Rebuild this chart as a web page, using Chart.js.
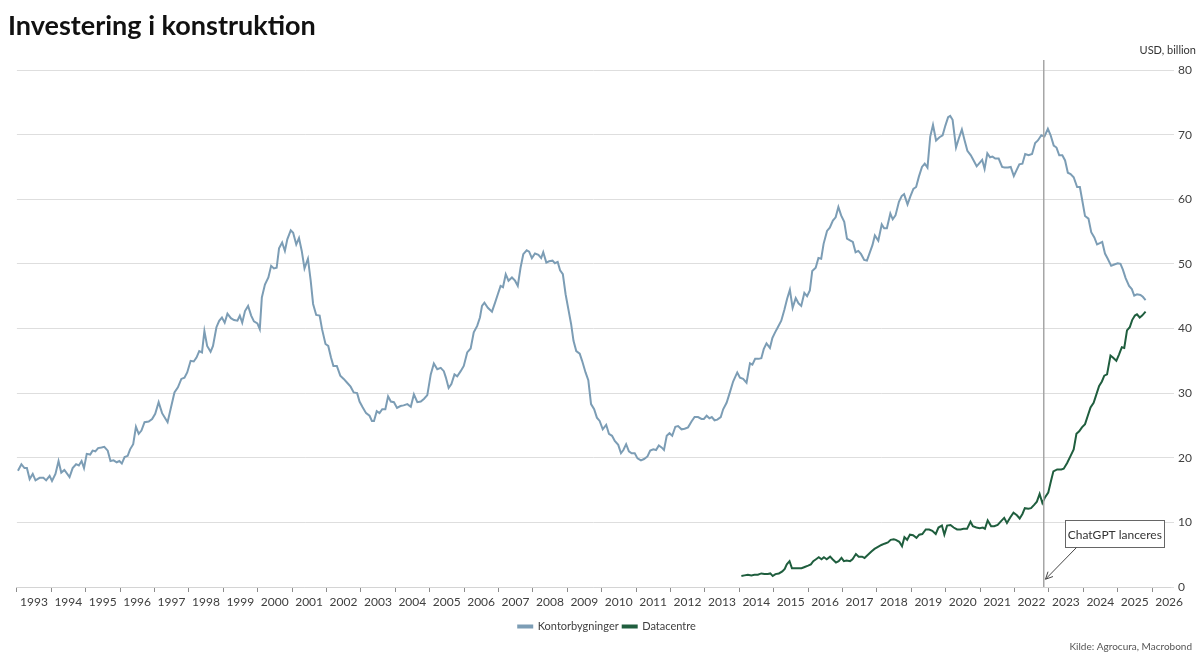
<!DOCTYPE html>
<html>
<head>
<meta charset="utf-8">
<script src="https://cdn.jsdelivr.net/npm/chart.js@4.4.0/dist/chart.umd.min.js"></script>
<style>
  html, body { margin: 0; padding: 0; background: #fff; }
  #wrap { width: 1200px; height: 662px; position: relative; }
</style>
</head>
<body>
<div id="wrap"><canvas id="myChart"></canvas></div>
<script>
// monthly readings, x = decimal year
const officeDates = [
  1993.03, 1993.13, 1993.22, 1993.29, 1993.37, 1993.46, 1993.54, 1993.66, 1993.77, 1993.85, 1993.95,
  1994.02, 1994.12, 1994.21, 1994.29, 1994.38, 1994.53, 1994.62, 1994.72, 1994.80, 1994.88, 1994.95,
  1995.03, 1995.13, 1995.20, 1995.28, 1995.36, 1995.46, 1995.54, 1995.64, 1995.72, 1995.81, 1995.90, 1995.98,
  1996.05, 1996.13, 1996.22, 1996.29, 1996.38, 1996.46, 1996.54, 1996.62, 1996.71, 1996.83, 1996.93,
  1997.02, 1997.12, 1997.22, 1997.31, 1997.38, 1997.48, 1997.58, 1997.68, 1997.78, 1997.87, 1997.95,
  1998.05, 1998.14, 1998.22, 1998.30, 1998.38, 1998.45, 1998.53, 1998.63, 1998.70, 1998.80, 1998.88, 1998.96,
  1999.04, 1999.12, 1999.22, 1999.31, 1999.41, 1999.48, 1999.55, 1999.63, 1999.72, 1999.81, 1999.89, 1999.99,
  2000.06, 2000.12, 2000.21, 2000.31, 2000.39, 2000.47, 2000.55, 2000.62, 2000.71, 2000.79, 2000.86, 2000.96,
  2001.03, 2001.12, 2001.20, 2001.28, 2001.36, 2001.46, 2001.54, 2001.61, 2001.70, 2001.80, 2001.87, 2001.97,
  2002.05, 2002.13, 2002.20, 2002.30, 2002.40, 2002.50, 2002.60, 2002.70, 2002.79, 2002.89, 2002.96,
  2003.05, 2003.15, 2003.25, 2003.32, 2003.38, 2003.46, 2003.54, 2003.62, 2003.71, 2003.79, 2003.87, 2003.96,
  2004.05, 2004.15, 2004.24, 2004.35, 2004.45, 2004.54, 2004.64, 2004.74, 2004.83, 2004.93,
  2005.03, 2005.12, 2005.22, 2005.32, 2005.41, 2005.47, 2005.55, 2005.63, 2005.72, 2005.80, 2005.90, 2005.99,
  2006.09, 2006.19, 2006.28, 2006.38, 2006.46, 2006.52, 2006.59, 2006.69, 2006.81, 2006.90, 2006.98,
  2007.06, 2007.13, 2007.21, 2007.29, 2007.39, 2007.48, 2007.56, 2007.64, 2007.72, 2007.82, 2007.89, 2007.97,
  2008.06, 2008.16, 2008.24, 2008.30, 2008.39, 2008.47, 2008.57, 2008.64, 2008.72, 2008.79, 2008.87, 2008.95,
  2009.03, 2009.11, 2009.18, 2009.26, 2009.36, 2009.43, 2009.53, 2009.61, 2009.69, 2009.78, 2009.86, 2009.94,
  2010.03, 2010.13, 2010.21, 2010.30, 2010.38, 2010.48, 2010.56, 2010.63, 2010.71, 2010.79, 2010.87, 2010.96,
  2011.04, 2011.14, 2011.23, 2011.33, 2011.41, 2011.50, 2011.58, 2011.66, 2011.74, 2011.81, 2011.89, 2011.97,
  2012.05, 2012.14, 2012.22, 2012.32, 2012.41, 2012.51, 2012.61, 2012.70, 2012.80, 2012.90, 2012.97,
  2013.05, 2013.13, 2013.20, 2013.28, 2013.36, 2013.46, 2013.53, 2013.63, 2013.73, 2013.82, 2013.94,
  2014.02, 2014.11, 2014.21, 2014.31, 2014.38, 2014.46, 2014.56, 2014.64, 2014.71, 2014.79, 2014.89, 2014.96,
  2015.04, 2015.12, 2015.22, 2015.31, 2015.39, 2015.47, 2015.55, 2015.64, 2015.72, 2015.80, 2015.89, 2015.97,
  2016.05, 2016.12, 2016.22, 2016.30, 2016.38, 2016.45, 2016.55, 2016.63, 2016.72, 2016.80, 2016.88, 2016.96,
  2017.05, 2017.13, 2017.23, 2017.30, 2017.38, 2017.46, 2017.54, 2017.63, 2017.71, 2017.79, 2017.87, 2017.94,
  2018.04, 2018.14, 2018.21, 2018.29, 2018.39, 2018.46, 2018.54, 2018.64, 2018.72, 2018.79, 2018.89, 2018.97,
  2019.06, 2019.14, 2019.22, 2019.31, 2019.39, 2019.47, 2019.55, 2019.63, 2019.72, 2019.82, 2019.91, 2019.99,
  2020.07, 2020.13, 2020.20, 2020.30, 2020.38, 2020.47, 2020.55, 2020.63, 2020.73, 2020.80, 2020.90, 2020.98,
  2021.06, 2021.13, 2021.21, 2021.29, 2021.36, 2021.44, 2021.54, 2021.64, 2021.71, 2021.81, 2021.89, 2021.98,
  2022.06, 2022.14, 2022.23, 2022.31, 2022.41, 2022.51, 2022.60, 2022.68, 2022.78, 2022.87, 2022.97,
  2023.05, 2023.14, 2023.22, 2023.30, 2023.39, 2023.47, 2023.55, 2023.63, 2023.72, 2023.82, 2023.90, 2023.97,
  2024.05, 2024.15, 2024.23, 2024.32, 2024.40, 2024.48, 2024.55, 2024.63, 2024.71, 2024.81, 2024.90,
  2025.00, 2025.08, 2025.15, 2025.23, 2025.33, 2025.41, 2025.48, 2025.56, 2025.66, 2025.73, 2025.81
];
const officeValues = [
  18.0, 19.0, 18.4, 18.4, 16.7, 17.5, 16.5, 16.9, 16.9, 16.5, 17.2,
  16.4, 17.5, 19.5, 17.7, 18.1, 17.0, 18.4, 19.0, 18.8, 19.5, 18.4,
  20.6, 20.5, 21.1, 21.0, 21.5, 21.6, 21.7, 21.1, 19.5, 19.6, 19.3, 19.5,
  19.1, 20.1, 20.3, 21.3, 22.1, 24.8, 23.7, 24.2, 25.5, 25.6, 26.0,
  26.8, 28.6, 26.9, 26.1, 25.5, 27.8, 30.1, 30.9, 32.2, 32.4, 33.2,
  35.0, 34.9, 35.5, 36.5, 36.3, 39.6, 37.3, 36.4, 37.3, 40.2, 41.2, 41.7,
  40.9, 42.3, 41.6, 41.3, 41.2, 42.0, 40.9, 42.7, 43.5, 42.0, 41.1, 40.8,
  39.9, 44.8, 46.8, 47.9, 49.7, 49.3, 49.4, 52.4, 53.3, 52.0, 53.8, 55.2,
  54.8, 53.0, 54.0, 52.0, 49.3, 50.8, 47.4, 43.8, 42.1, 42.0, 39.9, 37.6,
  37.3, 35.5, 34.2, 34.2, 32.7, 32.2, 31.6, 31.0, 30.1, 30.0, 28.7,
  27.8, 26.9, 26.5, 25.7, 25.7, 27.2, 26.9, 27.5, 27.5, 29.5, 28.7, 28.6,
  27.7, 28.0, 28.1, 28.3, 27.9, 29.8, 28.6, 28.7, 29.1, 29.7,
  32.9, 34.6, 33.7, 33.9, 33.4, 32.4, 30.8, 31.4, 32.9, 32.6, 33.4, 34.2,
  36.3, 36.9, 39.4, 40.4, 41.7, 43.5, 44.0, 43.2, 42.6, 44.0, 45.3,
  46.6, 46.4, 48.4, 47.4, 47.9, 47.4, 46.6, 49.4, 51.5, 52.1, 51.9, 50.9,
  51.6, 51.4, 50.9, 51.8, 50.2, 50.4, 50.5, 50.1, 50.3, 49.0, 48.4, 45.3,
  43.0, 40.7, 38.1, 36.5, 36.1, 35.0, 33.2, 32.0, 28.3, 27.5, 26.2, 25.7,
  24.4, 25.1, 23.7, 23.4, 22.6, 22.0, 20.7, 21.2, 22.1, 21.0, 20.7, 20.7,
  19.9, 19.6, 19.8, 20.2, 21.1, 21.3, 21.2, 21.9, 21.6, 21.2, 23.4, 23.8,
  23.4, 24.8, 24.9, 24.4, 24.5, 24.7, 25.6, 26.3, 26.3, 26.0, 26.0,
  26.5, 26.1, 26.3, 25.8, 25.9, 26.3, 27.5, 28.5, 30.2, 31.8, 33.2,
  32.4, 32.2, 31.6, 34.6, 34.4, 35.3, 35.3, 35.4, 36.8, 37.7, 37.0, 38.5,
  39.4, 40.2, 41.2, 42.9, 44.6, 46.0, 43.2, 44.7, 43.9, 43.5, 45.5, 45.0,
  45.9, 48.9, 49.4, 50.9, 50.8, 53.1, 55.1, 55.6, 56.7, 57.2, 58.8, 57.5,
  56.5, 53.9, 53.6, 53.4, 51.8, 52.0, 51.5, 50.6, 50.5, 51.7, 52.9, 54.4,
  53.6, 56.1, 55.5, 55.5, 57.8, 56.9, 57.5, 59.6, 60.5, 60.8, 59.2, 60.4,
  61.6, 61.9, 63.5, 65.0, 65.5, 64.9, 69.7, 71.5, 69.1, 69.6, 69.9, 71.4,
  72.7, 72.9, 72.3, 68.0, 69.4, 70.8, 69.1, 67.5, 66.8, 66.1, 65.1, 65.6,
  66.1, 64.7, 67.1, 66.5, 66.6, 66.3, 66.3, 65.0, 64.9, 64.9, 65.0, 63.6,
  64.5, 65.4, 65.5, 67.0, 66.8, 67.0, 68.7, 69.1, 69.9, 69.7, 70.9,
  69.9, 68.3, 68.0, 66.8, 66.8, 66.0, 64.1, 63.9, 63.4, 61.9, 61.9, 59.8,
  57.4, 57.0, 54.9, 54.1, 53.0, 53.2, 53.4, 51.6, 50.8, 49.7, 49.9,
  50.1, 50.0, 49.1, 47.8, 46.6, 46.1, 45.1, 45.3, 45.2, 44.9, 44.4
];

const dataCentreDates = [
  2014.06, 2014.15, 2014.25, 2014.35, 2014.44, 2014.54, 2014.64, 2014.73, 2014.83, 2014.90, 2014.97,
  2015.05, 2015.15, 2015.25, 2015.32, 2015.38, 2015.46, 2015.53, 2015.61, 2015.71, 2015.81, 2015.90,
  2016.00, 2016.08, 2016.15, 2016.23, 2016.31, 2016.39, 2016.46, 2016.54, 2016.64, 2016.71, 2016.81, 2016.89, 2016.97,
  2017.04, 2017.12, 2017.22, 2017.29, 2017.39, 2017.47, 2017.57, 2017.64, 2017.74, 2017.84, 2017.93,
  2018.03, 2018.13, 2018.22, 2018.32, 2018.40, 2018.49, 2018.55, 2018.65, 2018.73, 2018.80, 2018.88, 2018.96,
  2019.05, 2019.15, 2019.23, 2019.32, 2019.42, 2019.52, 2019.61, 2019.71, 2019.79, 2019.89, 2019.96,
  2020.04, 2020.14, 2020.23, 2020.33, 2020.43, 2020.52, 2020.62, 2020.72, 2020.79, 2020.89, 2020.99,
  2021.08, 2021.14, 2021.22, 2021.32, 2021.41, 2021.51, 2021.61, 2021.70, 2021.78, 2021.88, 2021.97,
  2022.07, 2022.15, 2022.23, 2022.30, 2022.40, 2022.48, 2022.57, 2022.65, 2022.73, 2022.81, 2022.88, 2022.98,
  2023.06, 2023.13, 2023.24, 2023.36, 2023.43, 2023.53, 2023.63, 2023.72, 2023.80, 2023.88, 2023.96,
  2024.05, 2024.13, 2024.21, 2024.30, 2024.38, 2024.46, 2024.54, 2024.61, 2024.69, 2024.79, 2024.86, 2024.96,
  2025.04, 2025.12, 2025.19, 2025.27, 2025.35, 2025.42, 2025.50, 2025.56, 2025.64, 2025.71, 2025.81
];
const dataCentreValues = [
  1.7, 1.8, 1.9, 1.8, 1.9, 1.9, 2.1, 2.0, 2.0, 2.1, 1.7,
  2.0, 2.1, 2.4, 2.8, 3.5, 4.0, 2.9, 2.9, 2.9, 2.9, 3.1,
  3.3, 3.5, 4.0, 4.3, 4.6, 4.3, 4.6, 4.3, 4.7, 4.3, 3.8, 4.0, 4.5,
  4.0, 4.1, 4.0, 4.3, 5.1, 4.7, 4.7, 4.5, 5.0, 5.5, 5.9,
  6.2, 6.5, 6.7, 6.9, 7.3, 7.4, 7.3, 7.0, 6.3, 7.7, 7.3, 8.1,
  8.0, 7.6, 8.1, 8.2, 8.9, 8.9, 8.7, 8.2, 9.2, 9.5, 8.1,
  9.5, 9.6, 9.2, 8.9, 8.9, 9.0, 9.0, 10.1, 9.4, 9.2, 9.1,
  9.2, 9.0, 10.3, 9.4, 9.4, 9.6, 10.2, 10.7, 9.9, 10.8, 11.5,
  11.1, 10.6, 11.3, 12.2, 12.1, 12.2, 12.7, 13.2, 14.4, 13.0, 13.8, 14.6,
  16.4, 17.9, 18.2, 18.2, 18.3, 19.2, 20.3, 21.3, 23.7, 24.1, 24.7,
  25.2, 26.5, 27.8, 28.5, 29.8, 31.1, 31.8, 32.7, 32.9, 35.8, 35.5, 35.0,
  36.0, 37.1, 37.0, 39.7, 40.2, 41.3, 42.0, 42.2, 41.7, 42.0, 42.6
];

const yearTicks = [1993, 1994, 1995, 1996, 1997, 1998, 1999, 2000, 2001, 2002, 2003,
  2004, 2005, 2006, 2007, 2008, 2009, 2010, 2011, 2012, 2013, 2014, 2015, 2016,
  2017, 2018, 2019, 2020, 2021, 2022, 2023, 2024, 2025, 2026];
const seriesNames = ['Kontorbygninger', 'Datacentre'];
const chatGptLaunch = 2022.85; // nov 2022

const FONT = 'Lato, "Open Sans", sans-serif';
const officeColor = '#7c9db5';
const dcColor = '#1f5e3e';

function toPoints(xs, ys) {
  return xs.map((x, i) => ({ x: x, y: ys[i] }));
}

// title, unit, source, launch marker + callout
const extras = {
  id: 'extras',
  afterDatasetsDraw(chart) {
    const ctx = chart.ctx;
    const xs = chart.scales.x;
    const ys = chart.scales.y;
    const area = chart.chartArea;

    // ChatGPT line
    const lx = xs.getPixelForValue(chatGptLaunch);
    ctx.save();
    ctx.strokeStyle = '#a6a6a6';
    ctx.lineWidth = 1.5;
    ctx.beginPath();
    ctx.moveTo(lx, area.top - 10);
    ctx.lineTo(lx, area.bottom);
    ctx.stroke();

    // callout box
    const bl = xs.getPixelForValue(2023.48);
    const br = xs.getPixelForValue(2026.35);
    const bt = ys.getPixelForValue(10.3);
    const bb = ys.getPixelForValue(6.1);
    ctx.fillStyle = '#fff';
    ctx.fillRect(bl, bt, br - bl, bb - bt);
    ctx.strokeStyle = '#666';
    ctx.lineWidth = 1;
    ctx.strokeRect(Math.round(bl) + 0.5, Math.round(bt) + 0.5, Math.round(br - bl), Math.round(bb - bt));
    ctx.fillStyle = '#333';
    ctx.font = '12px ' + FONT;
    ctx.textAlign = 'center';
    ctx.textBaseline = 'middle';
    ctx.fillText('ChatGPT lanceres', (bl + br) / 2, (bt + bb) / 2 + 1);

    // arrow
    const ax0 = xs.getPixelForValue(2023.8), ay0 = bb;
    const ax1 = xs.getPixelForValue(2022.9), ay1 = ys.getPixelForValue(1.2);
    const ang = Math.atan2(ay1 - ay0, ax1 - ax0);
    ctx.strokeStyle = '#444';
    ctx.beginPath();
    ctx.moveTo(ax0, ay0);
    ctx.lineTo(ax1, ay1);
    ctx.moveTo(ax1 - 8 * Math.cos(ang - 0.45), ay1 - 8 * Math.sin(ang - 0.45));
    ctx.lineTo(ax1, ay1);
    ctx.lineTo(ax1 - 8 * Math.cos(ang + 0.45), ay1 - 8 * Math.sin(ang + 0.45));
    ctx.stroke();
    ctx.restore();
  },
  afterDraw(chart) {
    const ctx = chart.ctx;
    ctx.save();
    ctx.fillStyle = '#111';
    ctx.font = 'bold 27px ' + FONT;
    ctx.textAlign = 'left';
    ctx.textBaseline = 'alphabetic';
    ctx.fillText('Investering i konstruktion', 8, 35);

    ctx.fillStyle = '#333';
    ctx.font = '11px ' + FONT;
    ctx.textAlign = 'right';
    ctx.textBaseline = 'middle';
    ctx.fillText('USD, billion', 1196, 50);

    ctx.fillStyle = '#555';
    ctx.font = '10px ' + FONT;
    ctx.fillText('Kilde: Agrocura, Macrobond', 1192, 647);
    ctx.restore();
  }
};

const myChart = new Chart(document.getElementById('myChart'), {
  type: 'line',
  data: {
    datasets: [{
      label: seriesNames[0],
      data: toPoints(officeDates, officeValues),
      borderColor: officeColor,
      backgroundColor: officeColor,
      borderWidth: 2,
      pointRadius: 0,
      tension: 0
    }, {
      label: seriesNames[1],
      data: toPoints(dataCentreDates, dataCentreValues),
      borderColor: dcColor,
      backgroundColor: dcColor,
      borderWidth: 2,
      pointRadius: 0,
      tension: 0
    }]
  },
  options: {
    responsive: true,
    maintainAspectRatio: false,
    animation: false,
    layout: { padding: { top: 70, left: 14, right: 0, bottom: 20 } },
    scales: {
      x: {
        type: 'linear',
        min: 1993,
        max: 2026.52,
        afterBuildTicks: (scale) => { scale.ticks = yearTicks.map(v => ({ value: v })); },
        afterFit: (scale) => { scale.height = 30; },
        grid: { drawOnChartArea: false, drawTicks: true, tickLength: 5, color: '#8c8c8c' },
        border: { display: true, color: '#d4d4d4' },
        ticks: {
          autoSkip: false,
          maxRotation: 0,
          labelOffset: 17,
          padding: 3,
          color: '#404040',
          font: { family: FONT, size: 12 },
          callback: (v) => String(v)
        }
      },
      y: {
        position: 'right',
        min: 0,
        max: 80,
        afterFit: (scale) => { scale.width = 30; },
        grid: { color: '#dedede', tickLength: 4 },
        border: { display: false },
        ticks: {
          stepSize: 10,
          padding: 4,
          color: '#404040',
          font: { family: FONT, size: 12 }
        }
      }
    },
    plugins: {
      legend: {
        position: 'bottom',
        labels: {
          boxWidth: 14,
          boxHeight: 2,
          padding: 4,
          color: '#404040',
          font: { family: FONT, size: 11 }
        }
      },
      tooltip: { enabled: false }
    }
  },
  plugins: [extras]
});
</script>
</body>
</html>
